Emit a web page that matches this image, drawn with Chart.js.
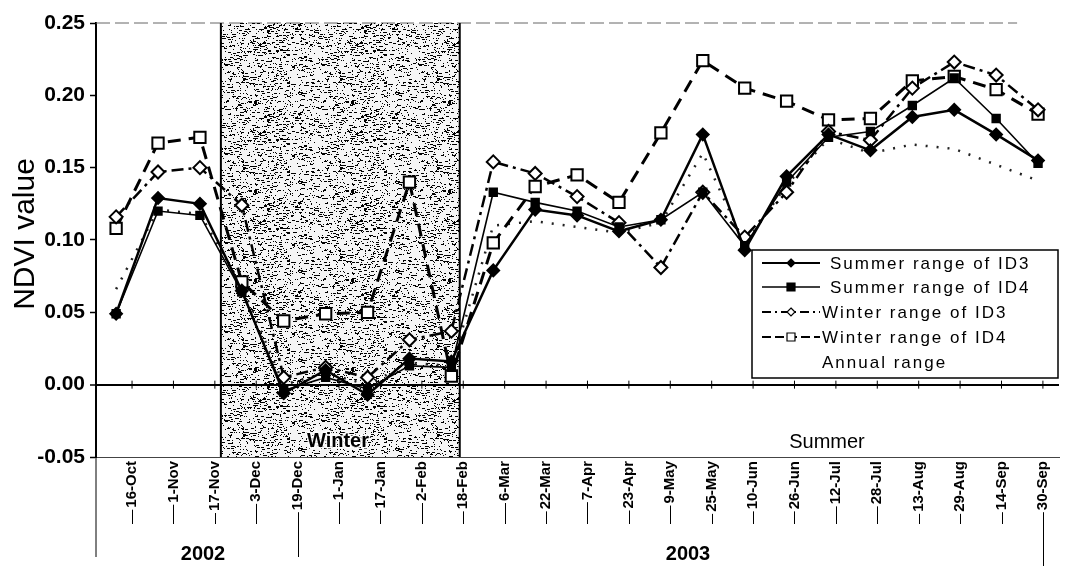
<!DOCTYPE html>
<html>
<head>
<meta charset="utf-8">
<script src="https://cdn.jsdelivr.net/npm/chart.js@4.4.0/dist/chart.umd.min.js"></script>
<style>
  body { margin: 0; background: #fff; }
  #wrap { width: 1069px; height: 566px; }
</style>
</head>
<body>
<div id="wrap"><canvas id="ndviChart" width="1069" height="566"></canvas></div>
<script>
// 16-day composite dates (tick labels)
const tickLabels = ['16-Oct', '1-Nov', '17-Nov', '3-Dec', '19-Dec', '1-Jan', '17-Jan', '2-Feb', '18-Feb',
    '6-Mar', '22-Mar', '7-Apr', '23-Apr', '9-May', '25-May', '10-Jun', '26-Jun', '12-Jul', '28-Jul',
    '13-Aug', '29-Aug', '14-Sep', '30-Sep'];

// NDVI series
const summerID3 = [0.049, 0.129, 0.125, 0.065, -0.006, 0.010, -0.007, 0.018, 0.016, 0.079, 0.121, 0.117,
    0.106, 0.114, 0.173, 0.093, 0.144, 0.173, 0.162, 0.185, 0.190, 0.173, 0.155];
const summerID4 = [0.049, 0.120, 0.117, 0.064, -0.004, 0.005, -0.003, 0.013, 0.012, 0.133, 0.126, 0.120,
    0.109, 0.114, 0.133, 0.096, 0.140, 0.171, 0.175, 0.193, 0.212, 0.184, 0.153];
const winterID3 = [0.116, 0.147, 0.150, 0.124, 0.005, 0.012, 0.005, 0.031, 0.037, 0.154, 0.146, 0.130,
    0.112, 0.081, 0.133, 0.102, 0.133, 0.175, 0.169, 0.205, 0.223, 0.214, 0.190];
const winterID4 = [0.108, 0.167, 0.171, 0.071, 0.044, 0.049, 0.050, 0.140, 0.006, 0.098, 0.137, 0.145,
    0.126, 0.174, 0.224, 0.205, 0.196, 0.183, 0.184, 0.210, 0.213, 0.204, 0.187];
const annualRange = [0.066, 0.121, 0.118, 0.068, 0.000, 0.008, 0.000, 0.015, 0.013, 0.110, 0.113, 0.109,
    0.105, 0.112, 0.160, 0.097, 0.138, 0.170, 0.160, 0.166, 0.163, 0.152, 0.141];

const yTicks = [-0.05, 0.00, 0.05, 0.10, 0.15, 0.20, 0.25];
const legendNames = ['Summer range of ID3', 'Summer range of ID4', 'Winter range of ID3', 'Winter range of ID4', 'Annual range'];

// winter shading spans these x values (index units)
const winterStart = 2.5;
const winterEnd = 8.2;

// tick labels sit slightly off the data points in the original
function labelPos(i) { return 0.38 + 0.988 * i; }

function toPoints(arr) { return arr.map((v, i) => ({ x: i, y: v })); }

// speckled texture for the winter box
function makeSpeckle(ctx) {
    const c = document.createElement('canvas');
    c.width = 97; c.height = 89;
    const g = c.getContext('2d');
    g.fillStyle = 'rgba(0,0,0,0.04)';
    g.fillRect(0, 0, c.width, c.height);
    g.fillStyle = '#000';
    let k = 0;
    for (let y = 0; y < c.height; y++) {
        for (let x = 0; x < c.width; x++) {
            k++;
            const h = Math.sin(k * 12.9898 + y * 78.233) * 43758.5453;
            const f = h - Math.floor(h);
            if (f < 0.11) g.fillRect(x, y, f < 0.035 ? 3 : 1, 1);
        }
    }
    return ctx.createPattern(c, 'repeat');
}

const decor = {
    id: 'decor',
    beforeDatasetsDraw(chart) {
        const { ctx, chartArea: a, scales: { x, y } } = chart;
        ctx.save();
        // top border (faint dashed)
        ctx.strokeStyle = '#666';
        ctx.lineWidth = 1;
        ctx.setLineDash([14, 5]);
        ctx.beginPath(); ctx.moveTo(a.left, a.top); ctx.lineTo(x.getPixelForValue(21.5), a.top); ctx.stroke();
        ctx.setLineDash([]);

        // winter box
        const x0 = x.getPixelForValue(winterStart), x1 = x.getPixelForValue(winterEnd);
        ctx.fillStyle = makeSpeckle(ctx);
        ctx.fillRect(x0, a.top, x1 - x0, a.bottom - a.top);
        ctx.strokeStyle = '#000';
        ctx.lineWidth = 2;
        ctx.beginPath();
        ctx.moveTo(x0, a.top); ctx.lineTo(x0, a.bottom);
        ctx.moveTo(x1, a.top); ctx.lineTo(x1, a.bottom);
        ctx.stroke();

        // tick marks on the zero line
        const y0 = y.getPixelForValue(0);
        ctx.lineWidth = 1;
        ctx.beginPath();
        tickLabels.forEach((_, i) => {
            const px = x.getPixelForValue(labelPos(i));
            ctx.moveTo(px, y0 - 4); ctx.lineTo(px, y0 + 4);
        });
        ctx.stroke();

        ctx.font = 'bold 20px "Liberation Sans", Arial, sans-serif';
        ctx.textAlign = 'center';
        ctx.textBaseline = 'middle';
        ctx.strokeStyle = 'rgba(255,255,255,0.85)';
        ctx.lineWidth = 3;
        ctx.strokeText('Winter', 338, 441);
        ctx.fillStyle = '#000';
        ctx.fillText('Winter', 338, 441);
        ctx.font = '20px "Liberation Sans", Arial, sans-serif';
        ctx.fillText('Summer', 827, 442);
        ctx.restore();
    },
    afterDraw(chart) {
        const { ctx, chartArea: a, scales: { x } } = chart;
        ctx.save();
        ctx.strokeStyle = '#000';
        ctx.lineWidth = 1;

        // little lines under each rotated date label
        ctx.font = 'bold 15px "Liberation Sans", Arial, sans-serif';
        ctx.beginPath();
        tickLabels.forEach((lab, i) => {
            const px = Math.round(x.getPixelForValue(labelPos(i))) + 0.5;
            const w = ctx.measureText(lab).width;
            const yStart = a.bottom + 4 + w + 2;
            const yEnd = i === 4 ? 557 : (i === 22 ? 566 : 524);
            ctx.moveTo(px, yStart); ctx.lineTo(px, yEnd);
        });
        ctx.moveTo(a.left, a.bottom); ctx.lineTo(a.left, 557);
        ctx.stroke();

        // years
        ctx.fillStyle = '#000';
        ctx.textAlign = 'center';
        ctx.textBaseline = 'middle';
        ctx.font = 'bold 20px "Liberation Sans", Arial, sans-serif';
        ctx.fillText('2002', 203, 554);
        ctx.fillText('2003', 688, 554);

        // y axis title
        ctx.save();
        ctx.translate(26, 234);
        ctx.rotate(-Math.PI / 2);
        ctx.font = '30px "Liberation Sans", Arial, sans-serif';
        ctx.fillText('NDVI value', 0, 0);
        ctx.restore();

        // legend box
        const lx = 752, ly = 250, lw = 306, lh = 128;
        ctx.fillStyle = '#fff';
        ctx.fillRect(lx, ly, lw, lh);
        ctx.lineWidth = 1.5;
        ctx.strokeRect(lx, ly, lw, lh);
        const rows = [263, 287, 312, 337, 362];
        const styles = [
            { dash: [], w: 2, marker: 'diamond', fill: '#000' },
            { dash: [], w: 1.5, marker: 'square', fill: '#000' },
            { dash: [9, 4, 2, 4], w: 2, marker: 'diamond', fill: '#fff' },
            { dash: [9, 4], w: 2, marker: 'square', fill: '#fff' },
            null
        ];
        ctx.textAlign = 'left';
        ctx.font = '17px "Liberation Sans", Arial, sans-serif';
        if ('letterSpacing' in ctx) ctx.letterSpacing = '2px';
        legendNames.forEach((name, i) => {
            const ry = rows[i];
            const st = styles[i];
            if (st) {
                ctx.strokeStyle = '#000';
                ctx.lineWidth = st.w;
                ctx.setLineDash(st.dash);
                ctx.beginPath(); ctx.moveTo(762, ry); ctx.lineTo(820, ry); ctx.stroke();
                ctx.setLineDash([]);
                ctx.fillStyle = st.fill;
                ctx.lineWidth = 1.2;
                ctx.beginPath();
                if (st.marker === 'diamond') {
                    ctx.moveTo(791, ry - 4); ctx.lineTo(795, ry); ctx.lineTo(791, ry + 4); ctx.lineTo(787, ry); ctx.closePath();
                } else {
                    ctx.rect(787, ry - 4, 8, 8);
                }
                ctx.fill(); ctx.stroke();
            }
            ctx.fillStyle = '#000';
            ctx.fillText(name, i < 2 ? 830 : 822, ry + 1);
        });
        ctx.restore();
    }
};

const ctx = document.getElementById('ndviChart').getContext('2d');
new Chart(ctx, {
    type: 'line',
    data: {
        datasets: [
            {
                label: legendNames[0], data: toPoints(summerID3),
                borderColor: '#000', borderWidth: 2.5, pointStyle: 'rectRot', pointRadius: 5.5,
                pointBackgroundColor: '#000', pointBorderColor: '#000', tension: 0
            },
            {
                label: legendNames[1], data: toPoints(summerID4),
                borderColor: '#000', borderWidth: 1.6, pointStyle: 'rect', pointRadius: 5.5,
                pointBackgroundColor: '#000', pointBorderColor: '#000', tension: 0
            },
            {
                label: legendNames[2], data: toPoints(winterID3),
                borderColor: '#000', borderWidth: 2.5, borderDash: [12, 5, 3, 5], pointStyle: 'rectRot', pointRadius: 6.5,
                pointBackgroundColor: '#fff', pointBorderColor: '#000', pointBorderWidth: 2, tension: 0
            },
            {
                label: legendNames[3], data: toPoints(winterID4),
                borderColor: '#000', borderWidth: 3, borderDash: [13, 8], pointStyle: 'rect', pointRadius: 8,
                pointBackgroundColor: '#fff', pointBorderColor: '#000', pointBorderWidth: 2, tension: 0
            },
            {
                label: legendNames[4], data: toPoints(annualRange),
                borderColor: '#222', borderWidth: 2.5, borderDash: [2, 9], pointRadius: 0, tension: 0
            }
        ]
    },
    options: {
        responsive: false,
        animation: false,
        devicePixelRatio: 1,
        layout: { padding: { top: 23, right: 5, left: 0, bottom: 0 } },
        plugins: { legend: { display: false }, tooltip: { enabled: false } },
        scales: {
            x: {
                type: 'linear',
                min: -0.48,
                max: 22.5,
                afterBuildTicks: s => { s.ticks = tickLabels.map((_, i) => ({ value: labelPos(i) })); },
                afterFit: s => { s.height = 109; },
                grid: { display: false, drawTicks: false },
                border: { display: true, color: '#444', width: 1, dash: [7, 3] },
                ticks: {
                    autoSkip: false, minRotation: 90, maxRotation: 90, padding: 4, color: '#000',
                    font: { family: '"Liberation Sans", Arial, sans-serif', size: 15, weight: 'bold' },
                    callback: (v, i) => tickLabels[i]
                }
            },
            y: {
                min: -0.05,
                max: 0.25,
                afterBuildTicks: s => { s.ticks = yTicks.map(v => ({ value: v })); },
                afterFit: s => { s.width = 96; },
                border: { display: true, color: '#000', width: 2 },
                grid: {
                    drawTicks: true, tickLength: 6, tickColor: '#000', tickWidth: 1.5,
                    color: c => (c.tick && Math.abs(c.tick.value) < 1e-9) ? '#000' : 'rgba(0,0,0,0)',
                    lineWidth: c => (c.tick && Math.abs(c.tick.value) < 1e-9) ? 2 : 1
                },
                ticks: {
                    padding: 5, color: '#000',
                    font: { family: '"Liberation Sans", Arial, sans-serif', size: 21, weight: 'bold' },
                    callback: v => v.toFixed(2)
                }
            }
        }
    },
    plugins: [decor]
});
</script>
</body>
</html>
